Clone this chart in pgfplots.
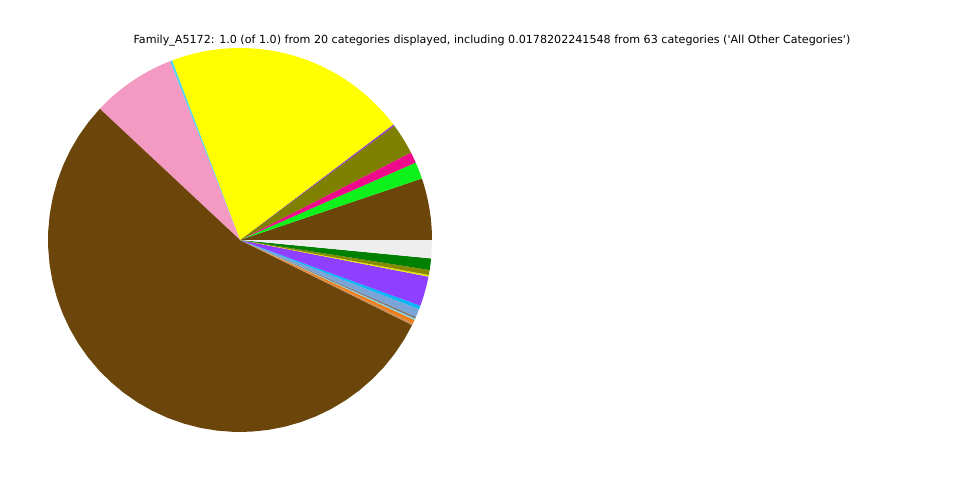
\documentclass[border=0pt]{standalone}
\usepackage{fontspec}
\setmainfont{DejaVu Sans}
\usepackage{pgfplots}
\pgfplotsset{compat=1.18}
\usepgfplotslibrary{polar}
\definecolor{cbrown}{RGB}{108,69,10}
\definecolor{cgreen}{RGB}{12,242,26}
\definecolor{cmag}{RGB}{238,10,138}
\definecolor{colive}{RGB}{128,128,0}
\definecolor{cpurp}{RGB}{140,60,200}
\definecolor{cyel}{RGB}{255,255,0}
\definecolor{ccyan}{RGB}{90,210,235}
\definecolor{cpink}{RGB}{244,154,194}
\definecolor{ctan}{RGB}{200,140,80}
\definecolor{corange}{RGB}{240,125,25}
\definecolor{clcyan}{RGB}{127,224,238}
\definecolor{cgray}{RGB}{128,128,128}
\definecolor{csteel}{RGB}{123,165,216}
\definecolor{csky}{RGB}{10,183,245}
\definecolor{cpurp2}{RGB}{143,63,255}
\definecolor{cyel2}{RGB}{230,230,0}
\definecolor{colive2}{RGB}{138,138,0}
\definecolor{cgreen2}{RGB}{0,128,0}
\definecolor{clgray}{RGB}{238,238,238}
\newcommand{\slice}[3]{\addplot[draw=none, fill=#3, domain=#1:#2, samples=40] {1} -- (axis cs:0,0) -- cycle;}
\begin{document}
\begin{tikzpicture}
\path (0pt,0pt) rectangle (720pt,360pt);
\node[font=\fontsize{8.34}{10}\selectfont, anchor=base] at (369pt,327.3pt) {Family\_A5172: 1.0 (of 1.0) from 20 categories displayed, including 0.0178202241548 from 63 categories (\textquotesingle All Other Categories\textquotesingle)};
\begin{polaraxis}[at={(180pt,180pt)}, anchor=center, width=288pt, height=288pt, scale only axis, hide axis, clip=false, ymin=0, ymax=1]
\slice{0}{18.7}{cbrown}
\slice{18.7}{23.8}{cgreen}
\slice{23.8}{27.1}{cmag}
\slice{27.1}{36.5}{colive}
\slice{36.5}{37.0}{cpurp}
\slice{37.0}{110.7}{cyel}
\slice{110.7}{111.4}{ccyan}
\slice{111.4}{136.9}{cpink}
\slice{136.9}{333.7}{cbrown}
\slice{333.7}{334.3}{ctan}
\slice{334.3}{335.4}{corange}
\slice{335.4}{335.8}{clcyan}
\slice{335.8}{336.5}{cgray}
\slice{336.5}{338.9}{csteel}
\slice{338.9}{340.0}{csky}
\slice{340.0}{349.0}{cpurp2}
\slice{349.0}{349.5}{cyel2}
\slice{349.5}{351.0}{colive2}
\slice{351.0}{354.5}{cgreen2}
\slice{354.5}{360}{clgray}
\end{polaraxis}
\end{tikzpicture}
\end{document}
